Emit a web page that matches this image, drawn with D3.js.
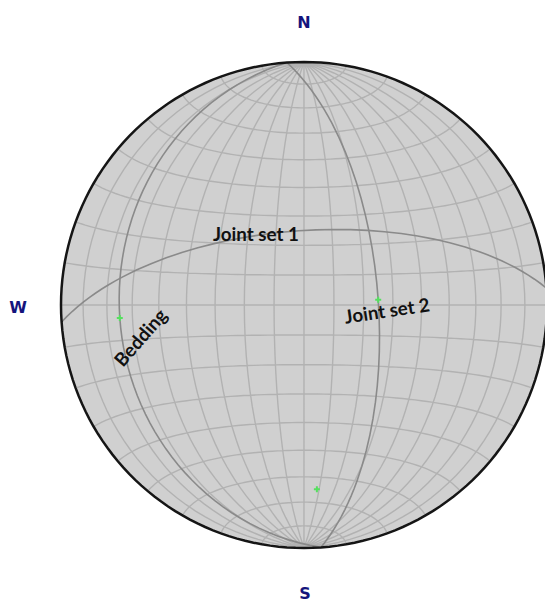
<!DOCTYPE html>
<html>
<head>
<meta charset="utf-8">
<script src="https://cdn.jsdelivr.net/npm/d3@7"></script>
<style>
html, body { margin: 0; padding: 0; background: #fff; overflow: hidden; }
svg { display: block; }
</style>
</head>
<body>
<div id="net"></div>
<script>
// planes, read as dip direction / dip in degrees
let planeNames = ['Bedding', 'Joint set 1', 'Joint set 2']
let dipDirections = [266, 356, 86]
let dips = [25, 65, 65]

// poles, as trend / plunge
let poleTrends = [86, 176, 266]
let polePlunges = [65, 25, 25]

let compassNames = ['N', 'S', 'W']

let width = 545, height = 601
let cx = 304, cy = 305, radius = 243

// schmidt net = equatorial aspect of the equal area projection
let projection = d3.geoAzimuthalEqualArea()
.rotate([0, 0])
.clipAngle(90)
.precision(0.1)
.scale(radius / Math.SQRT2)
.translate([cx, cy])

let path = d3.geoPath().projection(projection)

let svg = d3.select('#net')
.append('svg')
.attr('width', width)
.attr('height', height)

// trend/plunge on the lower hemisphere -> lon/lat of the net
function toLonLat(trend, plunge) {
	let t = trend * Math.PI / 180, p = plunge * Math.PI / 180
	let east = Math.sin(t) * Math.cos(p)
	let north = Math.cos(t) * Math.cos(p)
	let down = Math.sin(p)
	return [Math.atan2(east, down) * 180 / Math.PI, Math.asin(north) * 180 / Math.PI]
}

svg.append('path')
.datum({type: 'Sphere'})
.attr('d', path)
.attr('fill', '#d0d0d0')

let graticule = d3.geoGraticule()
.extentMajor([[-180, -90], [180, 90]])
.extentMinor([[-90, -80.001], [90, 80.001]])
.stepMajor([10, 360])
.stepMinor([10, 10])

svg.append('path')
.datum(graticule())
.attr('d', path)
.attr('fill', 'none')
.style('stroke', '#b2b2b2')
.style('stroke-width', 1.4)

// each plane: strike end, dip point, other strike end
svg.append('g')
.selectAll('path')
.data(planeNames)
.join('path')
.attr('d', (d, i) => path({
	type: 'LineString',
	coordinates: [
		toLonLat(dipDirections[i] - 90, 0),
		toLonLat(dipDirections[i], dips[i]),
		toLonLat(dipDirections[i] + 90, 0)
	]
}))
.attr('fill', 'none')
.style('stroke', '#8a8a8a')
.style('stroke-width', 1.6)

svg.append('path')
.datum({type: 'Sphere'})
.attr('d', path)
.attr('fill', 'none')
.style('stroke', '#151515')
.style('stroke-width', 2.5)

svg.append('g')
.selectAll('path')
.data(poleTrends)
.join('path')
.attr('transform', (d, i) => `translate(${projection(toLonLat(d, polePlunges[i]))})`)
.attr('d', d3.symbol(d3.symbolCross, 20))
.style('fill', '#55e05f')

let labelPos = {
	'Bedding': [140, 337, -49],
	'Joint set 1': [256, 233, 0],
	'Joint set 2': [387, 310, -8.5]
}

svg.append('g')
.selectAll('text')
.data(planeNames)
.join('text')
.attr('transform', d => `translate(${labelPos[d][0]},${labelPos[d][1]}) rotate(${labelPos[d][2]})`)
.attr('text-anchor', 'middle')
.attr('dominant-baseline', 'central')
.style('font-family', 'Lato, sans-serif')
.style('font-weight', 700)
.style('font-size', '18.8px')
.style('fill', '#111')
.text(d => d)

let compassPos = {N: [304, 22], S: [305, 593], W: [18, 307]}

svg.append('g')
.selectAll('text')
.data(compassNames)
.join('text')
.attr('x', d => compassPos[d][0])
.attr('y', d => compassPos[d][1])
.attr('text-anchor', 'middle')
.attr('dominant-baseline', 'central')
.style('font-family', '"DejaVu Sans", sans-serif')
.style('font-weight', 700)
.style('font-size', '16px')
.style('fill', '#14147c')
.text(d => d)
</script>
</body>
</html>
